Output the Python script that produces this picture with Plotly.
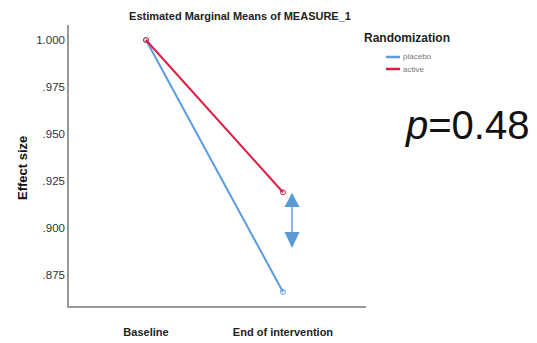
import plotly.graph_objects as go

# ---- data ----
timepoints = ["Baseline", "End of intervention"]
series_names = ["placebo", "active"]
placebo = [1.000, 0.866]
active = [1.000, 0.919]
y_tickvals = [0.875, 0.900, 0.925, 0.950, 0.975, 1.000]
y_ticktext = [".875", ".900", ".925", ".950", ".975", "1.000"]

BLUE = "#5B9BE0"
RED = "#D81E45"
FONT = "Liberation Sans, Arial"

# plot area in pixels (for placing decorations)
L, R, T, B = 69, 366, 25, 306
W, H = R - L, B - T


def px(x):
    return (x - L) / W


def py(y):
    return (B - y) / H


fig = go.Figure()
colors = [BLUE, RED]
for name, vals, col in zip(series_names, [placebo, active], colors):
    fig.add_trace(go.Scatter(
        x=timepoints, y=vals, name=name, mode="lines+markers",
        line=dict(color=col, width=2),
        marker=dict(symbol="circle-open", size=5, color=col, line=dict(width=1)),
        showlegend=False,
    ))

# manual compact legend
fig.add_annotation(text="<b>Randomization</b>", xref="paper", yref="paper",
                   x=px(362), y=py(38), xanchor="left", yanchor="middle",
                   showarrow=False, font=dict(family=FONT, size=12, color="#222222"))
for i, (name, col) in enumerate(zip(series_names, colors)):
    yy = 57 + 12 * i
    fig.add_shape(type="line", xref="paper", yref="paper",
                  x0=px(386), x1=px(400), y0=py(yy), y1=py(yy),
                  line=dict(color=col, width=2.5))
    fig.add_annotation(text=name, xref="paper", yref="paper",
                       x=px(401), y=py(yy), xanchor="left", yanchor="middle",
                       showarrow=False, font=dict(family=FONT, size=8, color="#777777"))

# double-headed arrow (decoration) between the two endpoints
ax = 1.066
hw = 0.055
fig.add_shape(type="line", xref="x", yref="y", x0=ax, x1=ax, y0=0.9112, y1=0.8979,
              line=dict(color="#8DB8E4", width=2))
fig.add_shape(type="path", xref="x", yref="y",
              path=f"M {ax-hw},0.9112 L {ax+hw},0.9112 L {ax},0.9187 Z",
              fillcolor="#5B9BD5", line=dict(width=0))
fig.add_shape(type="path", xref="x", yref="y",
              path=f"M {ax-hw},0.8979 L {ax+hw},0.8979 L {ax},0.8894 Z",
              fillcolor="#5B9BD5", line=dict(width=0))

fig.add_annotation(
    text="<i>p</i>=0.48", xref="paper", yref="paper",
    x=px(531), y=py(125), xanchor="right", yanchor="middle",
    showarrow=False, font=dict(family=FONT, size=40, color="#111111"),
)

# y-axis title
fig.add_annotation(
    text="<b>Effect size</b>", xref="paper", yref="paper",
    x=px(22), y=py(168), xanchor="center", yanchor="middle", textangle=-90,
    showarrow=False, font=dict(family=FONT, size=13, color="#111111"),
)

fig.update_layout(
    width=537, height=343,
    margin=dict(l=L, r=537 - R, t=T, b=343 - B, autoexpand=False),
    paper_bgcolor="white", plot_bgcolor="white",
    title=dict(text="<b>Estimated Marginal Means of MEASURE_1</b>",
               x=240 / 537, xanchor="center", y=1 - 16 / 343, yanchor="middle",
               font=dict(family=FONT, size=11, color="#222222")),
    showlegend=False,
    xaxis=dict(
        range=[-0.562, 1.606], showline=True, linecolor="#999999", linewidth=1.5,
        showgrid=False, zeroline=False, ticks="", ticklen=0, automargin=False,
        tickfont=dict(family="Liberation Sans, Arial", size=11, color="#222222",
                      weight="bold"),
        ticklabelstandoff=15,
    ),
    yaxis=dict(
        range=[0.8585, 1.008], showline=True, linecolor="#999999", linewidth=1.5,
        showgrid=False, zeroline=False, ticks="", ticklen=0, automargin=False,
        tickvals=y_tickvals, ticktext=y_ticktext,
        tickfont=dict(family=FONT, size=11.5, color="#333333"),
    ),
)

fig.write_html("out.html", config={"displayModeBar": False},
               post_script="document.body.style.margin='0px';")
